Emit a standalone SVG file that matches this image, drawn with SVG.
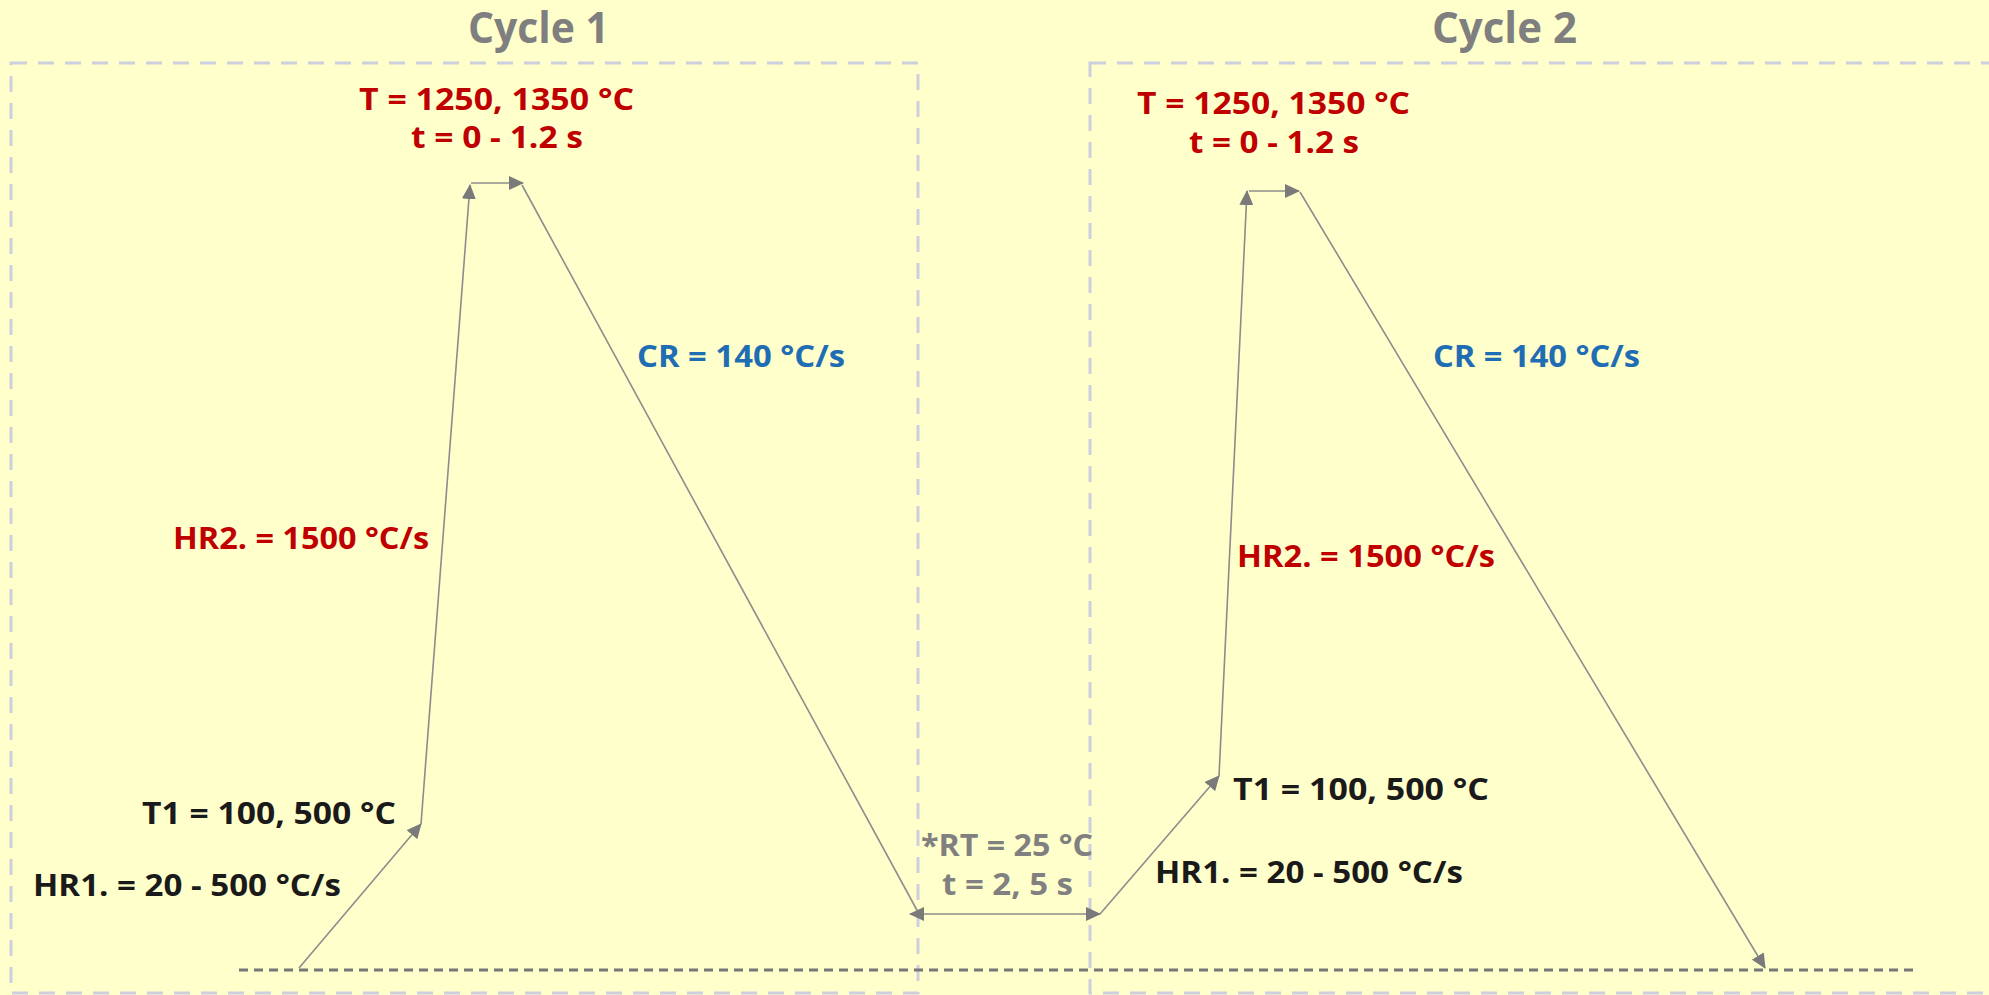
<svg xmlns="http://www.w3.org/2000/svg" width="1989" height="995" viewBox="0 0 1989 995">
  <defs>
    <style>
      .bg { fill: #ffffcc; }
      .box { fill: none; stroke: #cdcede; stroke-width: 3; stroke-dasharray: 16 11; }
      .base { fill: none; stroke: #777777; stroke-width: 3; stroke-dasharray: 9 6; }
      .conn { fill: none; stroke: #8c8c8c; stroke-width: 1.6; }
      .arr { marker-end: url(#ah); }
      .both { marker-start: url(#ah); marker-end: url(#ah); }
      text { font-family: "Open Sans", "DejaVu Sans", sans-serif; font-weight: bold; font-size: 31px; }
      .title { font-size: 43px; fill: #7f7f7f; }
      .red { fill: #c00000; }
      .blue { fill: #1f6db3; }
      .black { fill: #1a1a1a; }
      .gray { fill: #808080; }
    </style>
    <marker id="ah" markerUnits="userSpaceOnUse" markerWidth="15" markerHeight="14" refX="14" refY="7" orient="auto-start-reverse" viewBox="0 0 15 14">
      <path d="M0,0 L15,7 L0,14 z" fill="#7a7a7a"/>
    </marker>
  </defs>
  <rect class="bg" x="0" y="0" width="1989" height="995"/>

  <g id="cycle1-frame">
    <rect class="box" x="11" y="63" width="907" height="930"/>
    <text class="title" x="468" y="43" textLength="141" lengthAdjust="spacingAndGlyphs">Cycle 1</text>
  </g>
  <g id="cycle2-frame">
    <rect class="box" x="1090" y="63" width="940" height="930"/>
    <text class="title" x="1432" y="43" textLength="145" lengthAdjust="spacingAndGlyphs">Cycle 2</text>
  </g>

  <line id="baseline" class="base" x1="239" y1="970" x2="1918" y2="970"/>

  <g id="connectors">
    <line class="conn arr" x1="299" y1="968" x2="421" y2="824"/>
    <line class="conn arr" x1="421" y1="824" x2="470" y2="185"/>
    <line class="conn arr" x1="471" y1="183" x2="523" y2="183"/>
    <line class="conn" x1="522" y1="185" x2="918" y2="912"/>
    <line class="conn both" x1="910" y1="914" x2="1100" y2="914"/>
    <line class="conn arr" x1="1100" y1="914" x2="1219" y2="776"/>
    <line class="conn arr" x1="1219" y1="776" x2="1247" y2="191"/>
    <line class="conn arr" x1="1249" y1="191" x2="1299" y2="191"/>
    <line class="conn arr" x1="1300" y1="192" x2="1765" y2="968"/>
  </g>

  <g id="peak1">
    <text class="red" x="359" y="110" textLength="275" lengthAdjust="spacingAndGlyphs">T = 1250, 1350 °C</text>
    <text class="red" x="411" y="148" textLength="172" lengthAdjust="spacingAndGlyphs">t = 0 - 1.2 s</text>
  </g>
  <g id="peak2">
    <text class="red" x="1137" y="114" textLength="273" lengthAdjust="spacingAndGlyphs">T = 1250, 1350 °C</text>
    <text class="red" x="1189" y="153" textLength="170" lengthAdjust="spacingAndGlyphs">t = 0 - 1.2 s</text>
  </g>
  <g id="cr1"><text class="blue" x="637" y="367" textLength="208" lengthAdjust="spacingAndGlyphs">CR = 140 °C/s</text></g>
  <g id="cr2"><text class="blue" x="1433" y="367" textLength="207" lengthAdjust="spacingAndGlyphs">CR = 140 °C/s</text></g>
  <g id="hr2-1"><text class="red" x="173" y="549" textLength="256" lengthAdjust="spacingAndGlyphs">HR2. = 1500 °C/s</text></g>
  <g id="hr2-2"><text class="red" x="1237" y="567" textLength="258" lengthAdjust="spacingAndGlyphs">HR2. = 1500 °C/s</text></g>
  <g id="t1-1"><text class="black" x="142" y="824" textLength="254" lengthAdjust="spacingAndGlyphs">T1 = 100, 500 °C</text></g>
  <g id="hr1-1"><text class="black" x="33" y="896" textLength="308" lengthAdjust="spacingAndGlyphs">HR1. = 20 - 500 °C/s</text></g>
  <g id="t1-2"><text class="black" x="1233" y="800" textLength="256" lengthAdjust="spacingAndGlyphs">T1 = 100, 500 °C</text></g>
  <g id="hr1-2"><text class="black" x="1155" y="883" textLength="308" lengthAdjust="spacingAndGlyphs">HR1. = 20 - 500 °C/s</text></g>
  <g id="rt">
    <text class="gray" x="921" y="856" textLength="172" lengthAdjust="spacingAndGlyphs">*RT = 25 °C</text>
    <text class="gray" x="942" y="895" textLength="131" lengthAdjust="spacingAndGlyphs">t = 2, 5 s</text>
  </g>
</svg>
